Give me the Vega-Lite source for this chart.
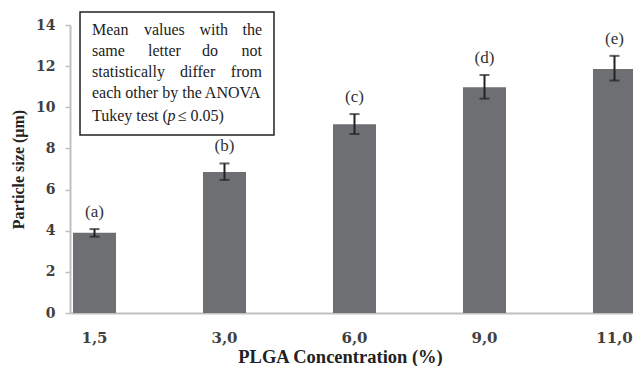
{
  "$schema": "https://vega.github.io/schema/vega-lite/v6.json",
  "autosize": {"type": "none"},
  "width": 569,
  "height": 288,
  "padding": {"left": 70, "top": 25, "right": 0, "bottom": 53},
  "background": "white",
  "config": {"view": {"stroke": null}, "font": "Liberation Serif"},
  "resolve": {"scale": {"x": "independent"}},
  "layer": [
    {
      "data": {"values": [
        {"conc": "1,5", "mean": 3.9, "lower": 3.71, "upper": 4.08, "group": "(a)"},
        {"conc": "3,0", "mean": 6.85, "lower": 6.47, "upper": 7.27, "group": "(b)"},
        {"conc": "6,0", "mean": 9.18, "lower": 8.7, "upper": 9.67, "group": "(c)"},
        {"conc": "9,0", "mean": 10.97, "lower": 10.42, "upper": 11.57, "group": "(d)"},
        {"conc": "11,0", "mean": 11.86, "lower": 11.3, "upper": 12.5, "group": "(e)"}
      ]},
      "encoding": {
        "x": {"field": "conc", "type": "nominal", "sort": null,
          "scale": {"paddingInner": 0.669, "paddingOuter": 0.023},
          "axis": {"title": "PLGA Concentration (%)", "labelAngle": 0, "ticks": false,
            "domainColor": "#c0c0c0", "domainWidth": 2, "labelPadding": 17,
            "labelFont": "DejaVu Serif", "labelFontSize": 15, "labelFontWeight": "bold", "labelColor": "#404040",
            "titleFont": "Liberation Serif", "titleFontSize": 18.5, "titleFontWeight": "bold", "titleColor": "#222222",
            "titlePadding": 2, "titleX": 270}
        }
      },
      "layer": [
        {
          "mark": {"type": "bar", "color": "#6e6f72"},
          "encoding": {
            "y": {"field": "mean", "type": "quantitative",
              "scale": {"domain": [0, 14]},
              "axis": {"title": "Particle size (µm)", "values": [0, 2, 4, 6, 8, 10, 12, 14], "grid": false,
                "domainColor": "#c0c0c0", "domainWidth": 2, "tickColor": "#c0c0c0", "tickSize": 5, "tickWidth": 1.5,
                "labelPadding": 10, "labelFont": "DejaVu Serif", "labelFontSize": 14, "labelFontWeight": "bold", "labelColor": "#404040",
                "titleFont": "Liberation Serif", "titleFontSize": 16, "titleFontWeight": "bold", "titleColor": "#222222", "titlePadding": 9}
            }
          }
        },
        {
          "mark": {"type": "rule", "color": "#222222", "strokeWidth": 2},
          "encoding": {"y": {"field": "lower", "type": "quantitative"}, "y2": {"field": "upper"}}
        },
        {
          "mark": {"type": "tick", "color": "#222222", "size": 10, "thickness": 2, "orient": "horizontal"},
          "encoding": {"y": {"field": "upper", "type": "quantitative"}}
        },
        {
          "mark": {"type": "tick", "color": "#222222", "size": 10, "thickness": 2, "orient": "horizontal"},
          "encoding": {"y": {"field": "lower", "type": "quantitative"}}
        },
        {
          "mark": {"type": "text", "dy": -17, "baseline": "middle", "fontSize": 17, "color": "#333333", "font": "Liberation Serif"},
          "encoding": {"y": {"field": "upper", "type": "quantitative"}, "text": {"field": "group"}}
        }
      ]
    },
    {
      "data": {"values": [{}]},
      "layer": [
        {
          "mark": {"type": "rect", "fill": "white", "stroke": "#222222", "strokeWidth": 1.5},
          "encoding": {
            "x": {"datum": 0.0176, "type": "quantitative", "scale": {"domain": [0, 1]}, "axis": null},
            "x2": {"datum": 0.3585},
            "y": {"datum": 14.63, "type": "quantitative"},
            "y2": {"datum": 8.65}
          }
        },
        {"mark": {"type": "text", "align": "left", "baseline": "middle", "fontSize": 16, "color": "#222222"},
         "encoding": {"x": {"datum": 0.0387, "type": "quantitative"}, "y": {"datum": 13.757, "type": "quantitative"}, "text": {"value": "Mean"}}},
        {"mark": {"type": "text", "align": "left", "baseline": "middle", "fontSize": 16, "color": "#222222"},
         "encoding": {"x": {"datum": 0.130, "type": "quantitative"}, "y": {"datum": 13.757, "type": "quantitative"}, "text": {"value": "values"}}},
        {"mark": {"type": "text", "align": "left", "baseline": "middle", "fontSize": 16, "color": "#222222"},
         "encoding": {"x": {"datum": 0.2275, "type": "quantitative"}, "y": {"datum": 13.757, "type": "quantitative"}, "text": {"value": "with"}}},
        {"mark": {"type": "text", "align": "right", "baseline": "middle", "fontSize": 16, "color": "#222222"},
         "encoding": {"x": {"datum": 0.3374, "type": "quantitative"}, "y": {"datum": 13.757, "type": "quantitative"}, "text": {"value": "the"}}},
        {"mark": {"type": "text", "align": "left", "baseline": "middle", "fontSize": 16, "color": "#222222"},
         "encoding": {"x": {"datum": 0.0387, "type": "quantitative"}, "y": {"datum": 12.736, "type": "quantitative"}, "text": {"value": "same"}}},
        {"mark": {"type": "text", "align": "left", "baseline": "middle", "fontSize": 16, "color": "#222222"},
         "encoding": {"x": {"datum": 0.1371, "type": "quantitative"}, "y": {"datum": 12.736, "type": "quantitative"}, "text": {"value": "letter"}}},
        {"mark": {"type": "text", "align": "left", "baseline": "middle", "fontSize": 16, "color": "#222222"},
         "encoding": {"x": {"datum": 0.232, "type": "quantitative"}, "y": {"datum": 12.736, "type": "quantitative"}, "text": {"value": "do"}}},
        {"mark": {"type": "text", "align": "right", "baseline": "middle", "fontSize": 16, "color": "#222222"},
         "encoding": {"x": {"datum": 0.3374, "type": "quantitative"}, "y": {"datum": 12.736, "type": "quantitative"}, "text": {"value": "not"}}},
        {"mark": {"type": "text", "align": "left", "baseline": "middle", "fontSize": 16, "color": "#222222"},
         "encoding": {"x": {"datum": 0.0387, "type": "quantitative"}, "y": {"datum": 11.716, "type": "quantitative"}, "text": {"value": "statistically"}}},
        {"mark": {"type": "text", "align": "left", "baseline": "middle", "fontSize": 16, "color": "#222222"},
         "encoding": {"x": {"datum": 0.1933, "type": "quantitative"}, "y": {"datum": 11.716, "type": "quantitative"}, "text": {"value": "differ"}}},
        {"mark": {"type": "text", "align": "right", "baseline": "middle", "fontSize": 16, "color": "#222222"},
         "encoding": {"x": {"datum": 0.3374, "type": "quantitative"}, "y": {"datum": 11.716, "type": "quantitative"}, "text": {"value": "from"}}},
        {"mark": {"type": "text", "align": "left", "baseline": "middle", "fontSize": 16, "color": "#222222"},
         "encoding": {"x": {"datum": 0.0387, "type": "quantitative"}, "y": {"datum": 10.695, "type": "quantitative"}, "text": {"value": "each other by the ANOVA"}}},
        {"mark": {"type": "text", "align": "left", "baseline": "middle", "fontSize": 16, "color": "#222222"},
         "encoding": {"x": {"datum": 0.0387, "type": "quantitative"}, "y": {"datum": 9.577, "type": "quantitative"}, "text": {"value": "Tukey test ("}}},
        {"mark": {"type": "text", "align": "left", "baseline": "middle", "fontSize": 16, "fontStyle": "italic", "color": "#222222"},
         "encoding": {"x": {"datum": 0.1713, "type": "quantitative"}, "y": {"datum": 9.577, "type": "quantitative"}, "text": {"value": "p"}}},
        {"mark": {"type": "text", "align": "left", "baseline": "middle", "fontSize": 16, "color": "#222222"},
         "encoding": {"x": {"datum": 0.1895, "type": "quantitative"}, "y": {"datum": 9.577, "type": "quantitative"}, "text": {"value": "≤ 0.05)"}}}
      ]
    }
  ]
}
